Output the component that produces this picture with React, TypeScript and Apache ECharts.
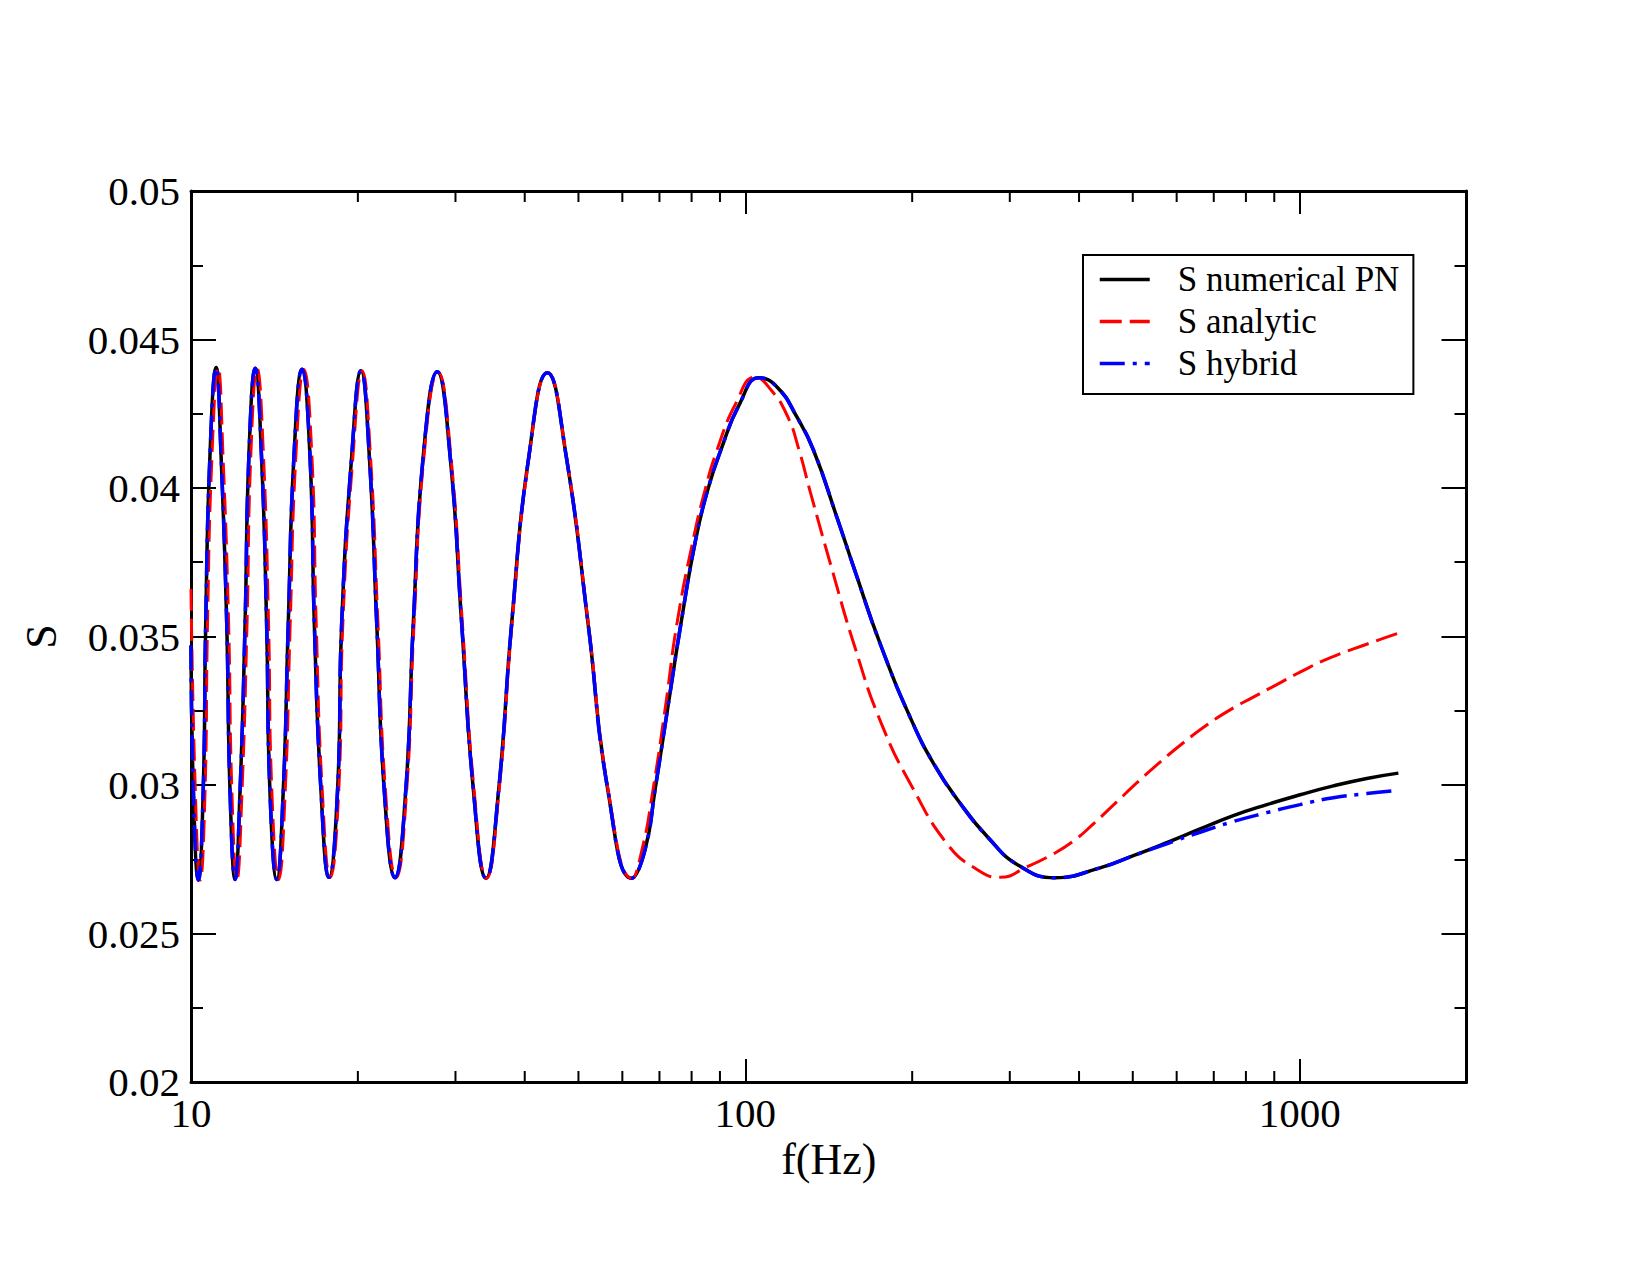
import React, { useEffect, useRef } from "react";
import * as echarts from "echarts";

// Axis ranges
const FREQ_MIN = 10;
const FREQ_MAX = 2000;
const S_MIN = 0.02;
const S_MAX = 0.05;
const S_STEP = 0.005;

const seriesNames = ["S numerical PN", "S analytic", "S hybrid"];
const majorFreqLabels = [10, 100, 1000];
const minorFreqTicks = [20, 30, 40, 50, 60, 70, 80, 90, 200, 300, 400, 500, 600, 700, 800, 900];

// S(f) from the numerical post-Newtonian evolution
const numericalPN: [number, number][] = [
  [10.0, 0.0347], [10.1, 0.0298], [10.31, 0.0268], [10.52, 0.0298], [10.63, 0.03545],
  [10.82, 0.0411], [11.1, 0.04406], [11.33, 0.0411], [11.6, 0.03545], [11.76, 0.0298],
  [12.01, 0.02682], [12.26, 0.0298], [12.52, 0.03545], [12.72, 0.0411], [13.06, 0.04403],
  [13.4, 0.0411], [13.69, 0.03545], [13.88, 0.0298], [14.28, 0.02682], [14.67, 0.0298],
  [14.98, 0.03545], [15.34, 0.0411], [15.86, 0.044], [16.39, 0.0411], [16.69, 0.03545],
  [17.16, 0.0298], [17.74, 0.02689], [18.38, 0.0298], [18.7, 0.03545], [19.5, 0.0411],
  [20.26, 0.04395], [20.97, 0.0411], [21.63, 0.03545], [22.32, 0.0298], [23.34, 0.02688],
  [24.4, 0.0298], [25.18, 0.03545], [26.25, 0.0411], [27.82, 0.04391], [29.33, 0.0411],
  [30.78, 0.03545], [32.33, 0.0298], [34.06, 0.02686], [35.88, 0.0298], [37.89, 0.03545],
  [40.72, 0.0411], [43.94, 0.04388], [47.49, 0.0411], [52.03, 0.03545], [56.53, 0.0298],
  [62.38, 0.02686], [65.93, 0.02782], [68.72, 0.02983], [72.54, 0.03266], [76.56, 0.03545],
  [81.48, 0.03832], [85.65, 0.03997], [90.22, 0.04125], [97.82, 0.04286], [105.9, 0.04371],
  [114.5, 0.04337], [123.8, 0.0424], [132.7, 0.04128], [146.2, 0.03903], [157.4, 0.03725],
  [175.7, 0.03468], [200.3, 0.0321], [219.9, 0.03064], [240.9, 0.02953], [274.1, 0.02823],
  [312.6, 0.02727], [362.1, 0.02688], [436.4, 0.02721], [501.2, 0.02762], [575.8, 0.02806],
  [661.3, 0.02852], [759.3, 0.02897], [872.5, 0.02934], [1001.7, 0.02967], [1150.4, 0.02997],
  [1321.4, 0.03022], [1507, 0.0304],
];

// S(f) from the analytic approximation
const analytic: [number, number][] = [
  [10.0, 0.0366], [10.18, 0.0298], [10.39, 0.0268], [10.6, 0.0298], [10.71, 0.03545],
  [10.91, 0.0411], [11.19, 0.04405], [11.42, 0.0411], [11.69, 0.03545], [11.85, 0.0298],
  [12.1, 0.02682], [12.36, 0.0298], [12.62, 0.03545], [12.82, 0.0411], [13.16, 0.04402],
  [13.51, 0.0411], [13.8, 0.03545], [13.99, 0.0298], [14.39, 0.02682], [14.79, 0.0298],
  [15.1, 0.03545], [15.46, 0.0411], [15.98, 0.04399], [16.52, 0.0411], [16.82, 0.03545],
  [17.25, 0.0298], [17.83, 0.02689], [18.47, 0.0298], [18.79, 0.03545], [19.6, 0.0411],
  [20.36, 0.04394], [21.07, 0.0411], [21.74, 0.03545], [22.43, 0.0298], [23.45, 0.02688],
  [24.49, 0.0298], [25.26, 0.03545], [26.33, 0.0411], [27.9, 0.0439], [29.42, 0.0411],
  [30.87, 0.03545], [32.42, 0.0298], [34.13, 0.02686], [35.95, 0.0298], [37.95, 0.03545],
  [40.76, 0.0411], [43.96, 0.04388], [47.52, 0.0411], [52.08, 0.03545], [56.6, 0.0298],
  [62.45, 0.02686], [65.1, 0.02782], [68.1, 0.0298], [71.8, 0.03266], [75.3, 0.03545],
  [80.72, 0.03835], [84.59, 0.03993], [88.54, 0.04118], [96.21, 0.04286], [104.1, 0.04373],
  [111.3, 0.0433], [119.2, 0.04241], [125.0, 0.04128], [130.7, 0.03993], [143.4, 0.03725],
  [157.4, 0.03468], [175.7, 0.0321], [200.3, 0.02991], [232.1, 0.02798], [259.7, 0.0272],
  [288.1, 0.02689], [321.9, 0.02724], [359.4, 0.02768], [390.6, 0.02811], [424.5, 0.02869],
  [467.7, 0.02943], [508.3, 0.03007], [560.1, 0.03077], [612.9, 0.03138], [679.9, 0.03202],
  [749.0, 0.03253], [825.0, 0.03296], [909.3, 0.03338], [1001.6, 0.0338], [1134, 0.03428],
  [1321, 0.03474], [1507, 0.03511],
];

// The hybrid follows the numerical curve up to ~500 Hz, then its own branch
const HYBRID_SPLIT_HZ = 520;
const hybridTail: [number, number][] = [
  [575.8, 0.02802], [661.3, 0.02841], [759.3, 0.02877], [872.5, 0.02907],
  [1001.7, 0.02934], [1150.4, 0.02957], [1321.4, 0.02971], [1507, 0.02982],
];
const hybrid: [number, number][] = numericalPN
  .filter(([f]) => f < HYBRID_SPLIT_HZ)
  .concat(hybridTail);

const FONT = "'Liberation Serif', 'Times New Roman', serif";

export default function App() {
  const ref = useRef<HTMLDivElement>(null);

  useEffect(() => {
    if (!ref.current) return;
    const chart = echarts.init(ref.current, undefined, { renderer: "svg" });

    const axisLine = { show: true, lineStyle: { color: "#000", width: 3 } };
    const xTicks = { show: true, inside: true, length: 23, lineStyle: { color: "#000", width: 2 } };
    const yTicks = { show: true, inside: true, length: 25, lineStyle: { color: "#000", width: 2 } };
    const yMinor = { show: true, splitNumber: 2, length: 12, lineStyle: { color: "#000", width: 2 } };

    chart.setOption({
      animation: false,
      backgroundColor: "#fff",
      grid: { left: 191, right: 183.5, top: 191, bottom: 193, containLabel: false },
      legend: {
        data: seriesNames,
        orient: "vertical",
        left: 1083,
        top: 255,
        itemWidth: 50,
        itemHeight: 14,
        itemGap: 7,
        padding: [7, 14, 13, 15],
        borderColor: "#000",
        borderWidth: 2,
        backgroundColor: "#fff",
        selectedMode: false,
        itemStyle: { opacity: 0 },
        lineStyle: { width: 3.5 },
        textStyle: { fontFamily: FONT, fontSize: 35, color: "#000", padding: [0, 0, 0, 23] },
      },
      xAxis: [
        {
          type: "log",
          logBase: 10,
          min: FREQ_MIN,
          max: FREQ_MAX,
          position: "bottom",
          name: "f(Hz)",
          nameLocation: "middle",
          nameGap: 52,
          nameTextStyle: { fontFamily: FONT, fontSize: 44, color: "#000" },
          axisLine,
          axisTick: xTicks,
          splitLine: { show: false },
          axisLabel: {
            fontFamily: FONT,
            fontSize: 41,
            color: "#000",
            margin: 10,
            formatter: (v: number) => {
              const r = Math.round(v);
              return majorFreqLabels.includes(r) && Math.abs(v - r) < 1e-6 * r ? String(r) : "";
            },
          },
        },
        {
          type: "log",
          logBase: 10,
          min: FREQ_MIN,
          max: FREQ_MAX,
          position: "top",
          axisLine,
          axisTick: xTicks,
          axisLabel: { show: false },
          splitLine: { show: false },
        },
      ],
      yAxis: [
        {
          type: "value",
          min: S_MIN,
          max: S_MAX,
          interval: S_STEP,
          position: "left",
          name: "S",
          nameLocation: "middle",
          nameGap: 128,
          nameRotate: 90,
          nameTextStyle: { fontFamily: FONT, fontSize: 44, color: "#000" },
          axisLine,
          axisTick: yTicks,
          minorTick: yMinor,
          splitLine: { show: false },
          minorSplitLine: { show: false },
          axisLabel: { fontFamily: FONT, fontSize: 41, color: "#000", margin: 11 },
        },
        {
          type: "value",
          min: S_MIN,
          max: S_MAX,
          interval: S_STEP,
          position: "right",
          axisLine,
          axisTick: yTicks,
          minorTick: yMinor,
          splitLine: { show: false },
          minorSplitLine: { show: false },
          axisLabel: { show: false },
        },
      ],
      series: [
        {
          name: seriesNames[0],
          type: "line",
          data: numericalPN,
          smooth: 0.5,
          symbol: "none",
          lineStyle: { color: "#000", width: 3.5 },
          itemStyle: { color: "#000" },
          z: 3,
        },
        {
          name: seriesNames[1],
          type: "line",
          data: analytic,
          smooth: 0.5,
          symbol: "none",
          lineStyle: { color: "#ff0000", width: 3, type: [22, 8] },
          itemStyle: { color: "#ff0000" },
          z: 4,
        },
        {
          name: seriesNames[2],
          type: "line",
          data: hybrid,
          smooth: 0.5,
          symbol: "none",
          lineStyle: { color: "#0000ff", width: 3.5, type: [25, 8, 4, 8] },
          itemStyle: { color: "#0000ff" },
          z: 5,
        },
        {
          // minor decade ticks (2..9 x 10^n) on bottom and top frame
          name: "freq-minor-ticks",
          type: "custom",
          silent: true,
          clip: false,
          data: minorFreqTicks.map((f) => [f, S_MIN]),
          encode: { x: 0, y: 1 },
          renderItem: (_params: any, api: any) => {
            const f = api.value(0);
            const b = api.coord([f, S_MIN]);
            const t = api.coord([f, S_MAX]);
            const style = { stroke: "#000", lineWidth: 2 };
            return {
              type: "group",
              children: [
                { type: "line", shape: { x1: b[0], y1: b[1], x2: b[0], y2: b[1] - 11 }, style },
                { type: "line", shape: { x1: t[0], y1: t[1], x2: t[0], y2: t[1] + 11 }, style },
              ],
            };
          },
          z: 6,
        },
      ],
    });

    return () => chart.dispose();
  }, []);

  return (
    <div
      ref={ref}
      style={{ position: "absolute", left: 0, top: 0, width: 1650, height: 1275, background: "#fff" }}
    />
  );
}
